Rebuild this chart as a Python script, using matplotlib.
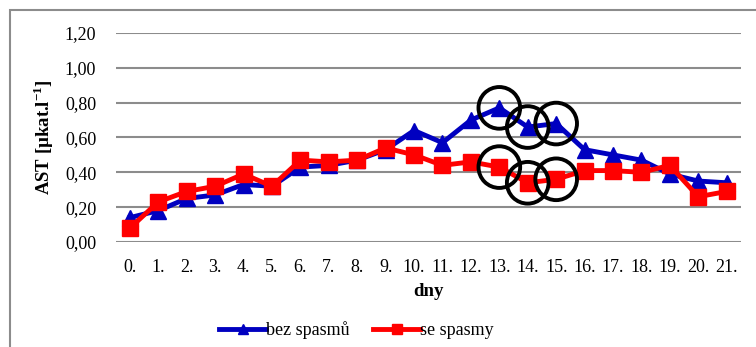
import matplotlib.pyplot as plt
from matplotlib.patches import Rectangle

plt.rcParams['font.family'] = ['Liberation Serif', 'DejaVu Serif']

# AST podle dne
dny = ['0.', '1.', '2.', '3.', '4.', '5.', '6.', '7.', '8.', '9.', '10.',
       '11.', '12.', '13.', '14.', '15.', '16.', '17.', '18.', '19.', '20.', '21.']
bez_spasmu = [0.14, 0.18, 0.25, 0.27, 0.33, 0.32, 0.43, 0.44, 0.47, 0.53, 0.64,
              0.57, 0.70, 0.77, 0.66, 0.68, 0.53, 0.50, 0.47, 0.39, 0.35, 0.34]
se_spasmy = [0.08, 0.23, 0.29, 0.32, 0.39, 0.32, 0.47, 0.46, 0.47, 0.54, 0.50,
             0.44, 0.46, 0.43, 0.34, 0.36, 0.41, 0.41, 0.40, 0.44, 0.26, 0.29]
zvyraznene = [13, 14, 15]

fig = plt.figure(figsize=(7.56, 3.47), dpi=100)
ax = fig.add_axes([0.153, 0.3026, 0.827, 0.6024])

x = list(range(len(dny)))
ax.plot(x, bez_spasmu, color='#0000C0', lw=3.5, marker='^', ms=11, label='bez spasmů', zorder=3)
ax.plot(x, se_spasmy, color='#FF0000', lw=3.5, marker='s', ms=11, label='se spasmy', zorder=4)

# krouzky kolem vybranych dni
for i in zvyraznene:
    ax.scatter([i, i], [bez_spasmu[i], se_spasmy[i]], s=900, facecolors='none',
               edgecolors='black', linewidths=2.8, zorder=5)

ax.set_xlim(-0.5, len(dny) - 0.5)
ax.set_ylim(0, 1.2)
ax.set_yticks([0, 0.2, 0.4, 0.6, 0.8, 1.0, 1.2])
ax.set_yticklabels(['0,00', '0,20', '0,40', '0,60', '0,80', '1,00', '1,20'])
ax.set_xticks(x)
ax.set_xticklabels(dny)
ax.tick_params(length=0, labelsize=13, pad=12)
ax.tick_params(axis='y', pad=14)
ax.yaxis.grid(True, color='#8C8C8C', lw=1.5)
ax.set_axisbelow(True)
for s in ax.spines.values():
    s.set_visible(False)

ax.set_xlabel('dny', fontsize=13.5, fontweight='bold', labelpad=5)
ax.set_ylabel(r'AST [µkat.l$^{\mathregular{-1}}$]', fontsize=13.5, fontweight='bold', labelpad=6)

ax.legend(loc='upper center', bbox_to_anchor=(0.385, -0.30), ncol=2, frameon=False,
          fontsize=13, handlelength=2.6, handletextpad=0.0, columnspacing=1.3,
          markerscale=0.6)

# ramecek grafu
fig.patches.append(Rectangle((10 / 756, -0.1), 1.2, 1.1 - 10 / 347,
                             transform=fig.transFigure, fill=False,
                             edgecolor='#8C8C8C', lw=1.5))

fig.savefig('out.png', dpi=100)
